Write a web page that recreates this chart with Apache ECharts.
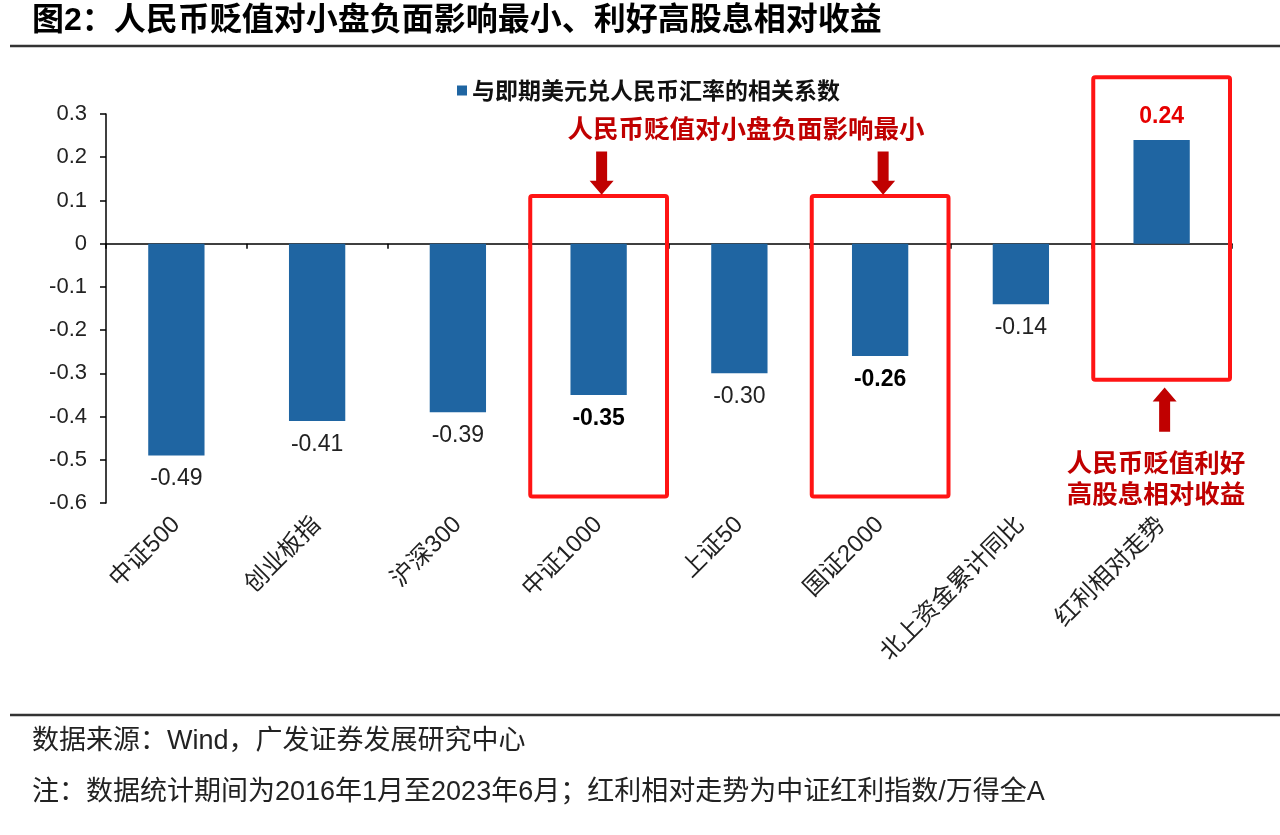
<!DOCTYPE html>
<html><head><meta charset="utf-8">
<script src="https://cdn.jsdelivr.net/npm/echarts@6/dist/echarts.min.js"></script>
<style>html,body{margin:0;padding:0;background:#fff}#c{width:1280px;height:835px}</style>
</head><body><div id="c"></div>
<script>
const titleText = '图2：人民币贬值对小盘负面影响最小、利好高股息相对收益';
const seriesName = '与即期美元兑人民币汇率的相关系数';
const categories = ['中证500', '创业板指', '沪深300', '中证1000', '上证50', '国证2000', '北上资金累计同比', '红利相对走势'];
const values = [-0.49, -0.41, -0.39, -0.35, -0.30, -0.26, -0.14, 0.24];
const boldLabelCategories = ['中证1000', '国证2000'];
const yMin = -0.6, yMax = 0.3, yInterval = 0.1;
// highlight boxes: [category index, top value, bottom value]
const boxSpans = [[3, 0.11, -0.585], [5, 0.11, -0.585], [7, 0.385, -0.315]];
// arrows: [category index, tail value, tip value]
const arrowSpans = [[3, 0.213, 0.113], [5, 0.213, 0.113], [7, -0.435, -0.333]];
const noteTop = '人民币贬值对小盘负面影响最小';
const noteRight = ['人民币贬值利好', '高股息相对收益'];
const sourceText = '数据来源：Wind，广发证券发展研究中心';
const noteText = '注：数据统计期间为2016年1月至2023年6月；红利相对走势为中证红利指数/万得全A';

const FONT = '"Liberation Sans", Arial, "Noto Sans CJK SC", sans-serif';
const CJK = '"Noto Sans CJK SC", sans-serif';
const BAR = '#1f65a2';
const RED_BOX = '#ff1414';
const DARK_RED = '#c00000';

const barData = values.map((v, i) => {
  const item = { value: v };
  if (v > 0) {
    item.label = { position: 'top', color: '#e60000', fontWeight: 'bold' };
  } else if (boldLabelCategories.includes(categories[i])) {
    item.label = { fontWeight: 'bold', color: '#000' };
  }
  return item;
});

const chart = echarts.init(document.getElementById('c'));
chart.setOption({
  animation: false,
  backgroundColor: '#fff',
  grid: { left: 106, right: 48, top: 114, bottom: 332, containLabel: false },
  legend: {
    data: [seriesName], left: 452, top: 74, itemWidth: 10, itemHeight: 10,
    icon: 'rect',
    textStyle: { fontFamily: CJK, fontSize: 23, fontWeight: 'bold', color: '#111' }
  },
  xAxis: [{
    type: 'category', data: categories, position: 'bottom',
    axisLine: { show: false, onZero: false }, axisTick: { show: false },
    axisLabel: { rotate: 45, margin: 18, fontFamily: FONT, fontSize: 24, color: '#222', interval: 0 }
  }, {
    type: 'category', data: categories, position: 'bottom',
    axisLine: { show: true, onZero: true, lineStyle: { color: '#000', width: 1.5 } },
    axisTick: { show: true, length: 5, lineStyle: { color: '#000', width: 1.5 } },
    axisLabel: { show: false }
  }],
  yAxis: {
    type: 'value', min: yMin, max: yMax, interval: yInterval,
    splitLine: { show: false },
    axisLine: { show: true, lineStyle: { color: '#000', width: 1.5 } },
    axisTick: { show: true, length: 6, lineStyle: { color: '#000', width: 1.5 } },
    axisLabel: {
      margin: 19, fontFamily: FONT, fontSize: 22, color: '#222',
      formatter: v => String(Math.round(v * 10) / 10)
    }
  },
  series: [{
    name: seriesName, type: 'bar', data: barData, barWidth: '40%', xAxisIndex: 0,
    itemStyle: { color: BAR },
    label: {
      show: true, position: 'bottom', distance: 12, fontFamily: FONT, fontSize: 23, color: '#222',
      formatter: p => p.value.toFixed(2)
    }
  }, {
    name: 'boxes', type: 'custom', xAxisIndex: 0, data: boxSpans, silent: true, z: 5,
    encode: { x: 0, y: [1, 2] },
    renderItem(params, api) {
      const c = api.value(0);
      const p1 = api.coord([c, api.value(1)]);
      const p2 = api.coord([c, api.value(2)]);
      const w = api.size([1, 0])[0];
      return {
        type: 'rect',
        shape: { x: p1[0] - w / 2 + 2, y: p1[1], width: w - 4, height: p2[1] - p1[1], r: 2 },
        style: { fill: 'none', stroke: RED_BOX, lineWidth: 4 }
      };
    }
  }, {
    name: 'arrows', type: 'custom', xAxisIndex: 0, data: arrowSpans, silent: true, z: 6,
    encode: { x: 0, y: [1, 2] },
    renderItem(params, api) {
      const c = api.value(0);
      const tail = api.coord([c, api.value(1)]);
      const tip = api.coord([c, api.value(2)]);
      const x = tip[0] + 3;
      const dir = tip[1] > tail[1] ? 1 : -1;
      const hl = 14, sw = 5.5, hw = 12;
      const base = tip[1] - dir * hl;
      return {
        type: 'polygon',
        shape: { points: [[x - sw, tail[1]], [x + sw, tail[1]], [x + sw, base], [x + hw, base], [x, tip[1]], [x - hw, base], [x - sw, base]] },
        style: { fill: DARK_RED }
      };
    }
  }],
  graphic: [
    { type: 'text', left: 32, top: 5, style: { text: titleText, fontFamily: '"Liberation Sans", "Noto Sans CJK SC", sans-serif', fontSize: 32, fontWeight: 'bold', fill: '#000' } },
    { type: 'line', shape: { x1: 10, y1: 46, x2: 1280, y2: 46 }, style: { stroke: '#333', lineWidth: 2.5 } },
    { type: 'text', x: 746, y: 128, style: { text: noteTop, fontFamily: CJK, fontSize: 25.5, fontWeight: 'bold', fill: DARK_RED, align: 'center', verticalAlign: 'middle' } },
    { type: 'text', x: 1156, y: 462, style: { text: noteRight[0], fontFamily: CJK, fontSize: 25.5, fontWeight: 'bold', fill: DARK_RED, align: 'center', verticalAlign: 'middle' } },
    { type: 'text', x: 1156, y: 493, style: { text: noteRight[1], fontFamily: CJK, fontSize: 25.5, fontWeight: 'bold', fill: DARK_RED, align: 'center', verticalAlign: 'middle' } },
    { type: 'line', shape: { x1: 10, y1: 715, x2: 1280, y2: 715 }, style: { stroke: '#333', lineWidth: 2.5 } },
    { type: 'text', x: 32, y: 742, style: { text: sourceText, fontFamily: FONT, fontSize: 27, fill: '#222', verticalAlign: 'middle' } },
    { type: 'text', x: 32, y: 793, style: { text: noteText, fontFamily: FONT, fontSize: 27, fill: '#222', verticalAlign: 'middle' } }
  ]
});
</script></body></html>
